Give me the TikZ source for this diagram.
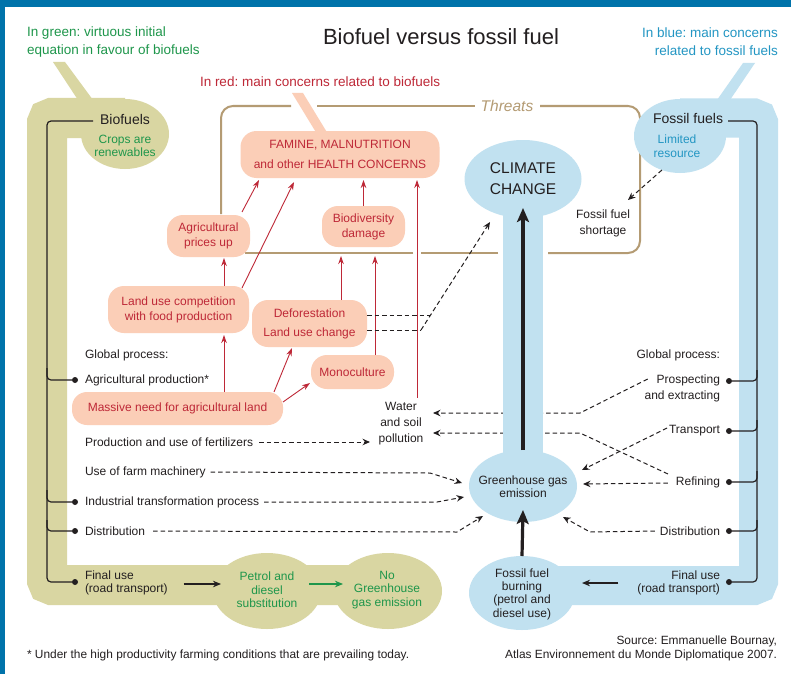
\documentclass[tikz,border=0pt]{standalone}
\usepackage{fontspec}
\setmainfont{Liberation Sans}
\usetikzlibrary{arrows.meta,shapes.geometric}
\definecolor{frameblue}{RGB}{0,115,170}
\definecolor{khaki}{RGB}{217,214,162}
\definecolor{lblue}{RGB}{193,225,240}
\definecolor{salmon}{RGB}{251,206,183}
\definecolor{redt}{RGB}{190,40,55}
\definecolor{greent}{RGB}{30,150,75}
\definecolor{bluet}{RGB}{35,150,195}
\definecolor{tanc}{RGB}{180,155,115}
\definecolor{ink}{RGB}{35,31,32}
\pgfdeclarelayer{base}
\pgfdeclarelayer{dash}
\pgfdeclarelayer{shapes}
\pgfsetlayers{base,dash,shapes,main}
\frenchspacing
\begin{document}
\begin{tikzpicture}[x=1pt,y=-1pt,
  every node/.style={inner sep=0pt,outer sep=0pt,text=ink,font=\fontsize{12}{15}\selectfont},
  lbl/.style={anchor=west,align=left},
  rlbl/.style={anchor=east,align=right},
  redbox/.style={fill=salmon,rounded corners=16pt,align=center,text=redt},
  ellg/.style={ellipse,fill=khaki},
  ellb/.style={ellipse,fill=lblue},
  dotnode/.style={circle,fill=ink,minimum size=6pt},
  blk/.style={draw=ink,line width=1.2pt,rounded corners=4pt},
  redarr/.style={draw=redt,line width=0.9pt,-{Stealth[length=8pt,width=5.5pt]}},
  dashln/.style={draw=ink,line width=1pt,dash pattern=on 4.5pt off 3pt},
  dasharr/.style={dashln,-{Stealth[length=7.5pt,width=6.5pt,inset=2.5pt]}},
  solarr/.style={draw=ink,line width=1.1pt,-{Stealth[length=8pt,width=6.5pt,inset=2.5pt]}},
  thickarr/.style={draw=ink,line width=3.2pt,-{Stealth[length=14pt,width=12pt,inset=3pt]}},
  tanln/.style={draw=tanc,line width=2pt,rounded corners=12pt}
]
\begin{pgfonlayer}{base}
  \fill[white] (0,0) rectangle (791,674);
  \fill[frameblue] (0,0) rectangle (791,7);
  \fill[frameblue] (0,0) rectangle (5,674);
\end{pgfonlayer}
\useasboundingbox (0,0) rectangle (791,674);

\begin{pgfonlayer}{shapes}
  \draw[khaki,line width=40pt,rounded corners=5pt] (125,118) -- (47,118) -- (47,585) -- (388,585);
  \fill[khaki] (53,62) -- (65,62) -- (93,100) -- (78,100) -- cycle;
  \draw[lblue,line width=39pt,rounded corners=5pt] (680,118) -- (758.5,118) -- (758.5,585.5) -- (522,585.5);
  \fill[lblue] (743,63) -- (755,63) -- (730,100) -- (717,100) -- cycle;
  \fill[lblue] (503,180) rectangle (543,490);
  \fill[salmon] (292,93) -- (303,93) -- (328,134) -- (317,134) -- cycle;
  \draw[tanln] (221,214) -- (221,106) -- (291,106);
  \draw[tanln] (317,106) -- (475,106);
  \draw[tanln] (540,106) -- (640,106) -- (640,253) -- (548,253);
  \draw[tanln] (498,253) -- (421,253);
  \draw[tanln] (413,253) -- (245,253);
\end{pgfonlayer}

% title and callouts
\node[font=\fontsize{22}{26}\selectfont] (title) at (441,37) {Biofuel versus fossil fuel};
\node[lbl,text=greent,font=\fontsize{13.5}{18}\selectfont] (gcall) at (27,42) {In green: virtuous initial\\equation in favour of biofuels};
\node[lbl,text=redt,font=\fontsize{13.5}{18}\selectfont] (rcall) at (200,82) {In red: main concerns related to biofuels};
\node[rlbl,text=bluet,font=\fontsize{13.5}{18}\selectfont] (bcall) at (778,42) {In blue: main concerns\\related to fossil fuels};

% ellipses
\node[ellg,minimum width=88pt,minimum height=70pt] (bioE) at (125,134) {};
\node[ellg,minimum width=108pt,minimum height=76pt] (petE) at (267,591) {};
\node[ellg,minimum width=108pt,minimum height=76pt] (noE) at (388,591) {};
\node[ellb,minimum width=92pt,minimum height=74pt] (fosE) at (680,136) {};
\node[ellb,minimum width=106pt,minimum height=74pt] (burnE) at (522,593) {};
\node[ellb,minimum width=108pt,minimum height=72pt] (ghgE) at (523,486) {};
\node[ellb,minimum width=117pt,minimum height=78pt] (climE) at (523,179) {};

\node[font=\fontsize{14}{16}\selectfont] (bioT) at (125,119) {Biofuels};
\node[text=greent,align=center,font=\fontsize{12}{13}\selectfont] (crops) at (125,146) {Crops are\\renewables};
\node[font=\fontsize{14}{16}\selectfont] (fosT) at (688,118) {Fossil fuels};
\node[text=bluet,align=center,font=\fontsize{12}{14}\selectfont] (limit) at (677,146) {Limited\\resource};
\node[text=greent,align=center,font=\fontsize{12}{13.5}\selectfont] (petT) at (267,590) {Petrol and\\diesel\\substitution};
\node[text=greent,align=center,font=\fontsize{12}{13.5}\selectfont] (noT) at (387,590) {No\\Greenhouse\\gas emission};
\node[align=center,font=\fontsize{12}{13.3}\selectfont] (burnT) at (522,594) {Fossil fuel\\burning\\(petrol and\\diesel use)};
\node[align=center,font=\fontsize{12}{13}\selectfont] (ghgT) at (523,486.5) {Greenhouse gas\\emission};
\node[align=center,font=\fontsize{15.5}{21}\selectfont] (climT) at (523,179) {CLIMATE\\CHANGE};

% red boxes
\node[redbox,minimum width=199pt,minimum height=47pt] (famine) at (340,154.5) {FAMINE, MALNUTRITION\\[5pt]and other HEALTH CONCERNS};
\node[redbox,minimum width=83pt,minimum height=42pt] (prices) at (208.5,236) {Agricultural\\prices up};
\node[redbox,minimum width=83pt,minimum height=41pt] (biodiv) at (363.5,226.5) {Biodiversity\\damage};
\node[redbox,minimum width=141pt,minimum height=47pt] (landuse) at (178.5,309.5) {Land use competition\\with food production};
\node[redbox,minimum width=115pt,minimum height=47pt] (defor) at (309.5,323.5) {Deforestation\\[4pt]Land use change};
\node[redbox,minimum width=83pt,minimum height=34pt] (mono) at (352.5,372) {Monoculture};
\node[redbox,minimum width=211pt,minimum height=33pt,rounded corners=15pt] (massive) at (177.5,408.5) {Massive need for agricultural land};

% left labels
\node[lbl] (gpL) at (85,355) {Global process:};
\node[lbl] (agri) at (85,380) {Agricultural production*};
\node[lbl] (fert) at (85,442) {Production and use of fertilizers};
\node[lbl] (farm) at (85,472) {Use of farm machinery};
\node[lbl] (indus) at (85,502) {Industrial transformation process};
\node[lbl] (distL) at (85,531) {Distribution};
\node[lbl,font=\fontsize{12}{13.5}\selectfont] (finL) at (85,583) {Final use\\(road transport)};

% right labels
\node[rlbl] (gpR) at (720,355) {Global process:};
\node[rlbl,font=\fontsize{12}{16}\selectfont] (prosp) at (720,388) {Prospecting\\and extracting};
\node[rlbl] (transp) at (720,431) {Transport};
\node[rlbl] (refin) at (720,482) {Refining};
\node[rlbl] (distR) at (720,531) {Distribution};
\node[rlbl,font=\fontsize{12}{13.5}\selectfont] (finR) at (720,583) {Final use\\(road transport)};

% other texts
\node[align=center,font=\fontsize{12}{16}\selectfont] (short) at (603,223) {Fossil fuel\\shortage};
\node[align=center,font=\fontsize{12}{16}\selectfont] (water) at (401,424) {Water\\and soil\\pollution};
\node[text=tanc,font=\itshape\fontsize{15.5}{18}\selectfont] (threats) at (507,106) {Threats};
\node[lbl,font=\fontsize{11.9}{13}\selectfont] (foot) at (27,655) {* Under the high productivity farming conditions that are prevailing today.};
\node[rlbl,font=\fontsize{11.9}{14}\selectfont] (src) at (777,648) {Source: Emmanuelle Bournay,\\Atlas Environnement du Monde Diplomatique 2007.};

% dots
\node[dotnode] (dA) at (75,380) {};
\node[dotnode] (dI) at (75,502) {};
\node[dotnode] (dD) at (75,531) {};
\node[dotnode] (dF) at (75,582) {};
\node[dotnode] (rP) at (729,381) {};
\node[dotnode] (rT) at (729,431) {};
\node[dotnode] (rR) at (729,482) {};
\node[dotnode] (rD) at (729,531) {};
\node[dotnode] (rF) at (729,582) {};

% process lines
\draw[blk] ([xshift=-7pt,yshift=-2pt]bioT.west) -- (47,121) -- (47,582) -- (dF);
\draw[blk] (47,368) |- (dA);
\draw[blk] (47,490) |- (dI);
\draw[blk] (47,520) |- (dD);
\draw[blk] ([xshift=5pt,yshift=-3pt]fosT.east) -- (757,121) -- (757,582) -- (rF);
\draw[blk] (757,370) |- (rP);
\draw[blk] (757,420) |- (rT);
\draw[blk] (757,471) |- (rR);
\draw[blk] (757,520) |- (rD);

% red arrows
\draw[redarr] ([xshift=46.5pt]massive.north) -- ([xshift=45.5pt,yshift=-2pt]landuse.south);
\draw[redarr] ([xshift=45.5pt]landuse.north) -- ([xshift=15.5pt,yshift=-1pt]prices.south);
\draw[redarr] ([xshift=96.5pt]massive.north) -- ([xshift=-17.5pt,yshift=-1pt]defor.south);
\draw[redarr] ([yshift=6.5pt]massive.east) -- ([xshift=-1pt,yshift=-11pt]mono.west);
\draw[redarr] ([xshift=31.5pt]defor.north) -- ([xshift=-22.5pt,yshift=-9pt]biodiv.south);
\draw[redarr] ([xshift=22.5pt]mono.north) -- ([xshift=11.5pt,yshift=-9pt]biodiv.south);
\draw[redarr] ([xshift=33.5pt,yshift=3pt]prices.north) -- ([xshift=-81pt,yshift=-2pt]famine.south);
\draw[redarr] ([xshift=63.5pt,yshift=-2pt]landuse.north) -- ([xshift=-46pt,yshift=-4pt]famine.south);
\draw[redarr] (biodiv.north) -- ([xshift=23.5pt,yshift=-2pt]famine.south);
\draw[redarr] ([xshift=16pt,yshift=5pt]water.north) -- ([xshift=77pt,yshift=-2pt]famine.south);

% dashed connectors
\coordinate (c1) at (430,315);
\coordinate (c2) at (421,330);
\coordinate (cT) at (490,222);
\coordinate (sT) at (628,200);
\coordinate (fT) at (370,442);
\coordinate (b1) at (430,473);
\coordinate (gA) at (462,483);
\coordinate (b2) at (437,502);
\coordinate (gE) at (464,497);
\coordinate (b3) at (457,532);
\coordinate (gF) at (483,516);
\coordinate (b5) at (580,413);
\coordinate (wA) at (433,413);
\coordinate (b6) at (580,433);
\coordinate (wB) at (433,433);
\coordinate (gB) at (582,470);
\coordinate (gC) at (583,484);
\coordinate (b7) at (590,532);
\coordinate (gD) at (563,517);

\draw[dashln] ([yshift=8.5pt]defor.east) -- (c1);
\draw[dashln] ([yshift=-6.5pt]defor.east) -- (c2);
\draw[dasharr] (c2) -- (cT);
\draw[dasharr] (fosE.-118) -- (sT);
\draw[dasharr] ([xshift=6pt]fert.east) -- (fT);
\draw[dasharr] ([xshift=5pt]farm.east) -- (b1) -- (gA);
\draw[dasharr] ([xshift=5pt]indus.east) -- (b2) -- (gE);
\draw[dasharr] ([xshift=8pt]distL.east) -- (b3) -- (gF);
\begin{pgfonlayer}{dash}
  \draw[dasharr] ([xshift=3pt,yshift=9pt]prosp.west) -- (b5) -- (wA);
  \draw[dasharr] ([xshift=-8pt,yshift=8pt]refin.west) -- (b6) -- (wB);
\end{pgfonlayer}
\draw[dasharr] ([xshift=-2pt,yshift=3pt]transp.west) -- (gB);
\draw[dasharr] ([xshift=-8pt,yshift=-1pt]refin.west) -- (gC);
\draw[dasharr] ([xshift=-5pt]distR.west) -- (b7) -- (gD);

% thick arrows
\draw[thickarr] (burnE.north) -- ([yshift=12pt]ghgE.south);
\draw[thickarr] (ghgE.north) -- ([yshift=10pt]climE.south);

% final use arrows
\draw[solarr] ([xshift=16pt,yshift=-1pt]finL.east) -- ([xshift=8pt,yshift=7pt]petE.west);
\draw[solarr,draw=greent] ([xshift=-12pt,yshift=7pt]petE.east) -- ([xshift=9pt,yshift=7pt]noE.west);
\draw[solarr] ([xshift=-19pt]finR.west) -- ([xshift=7pt,yshift=10pt]burnE.east);
\end{tikzpicture}
\end{document}
